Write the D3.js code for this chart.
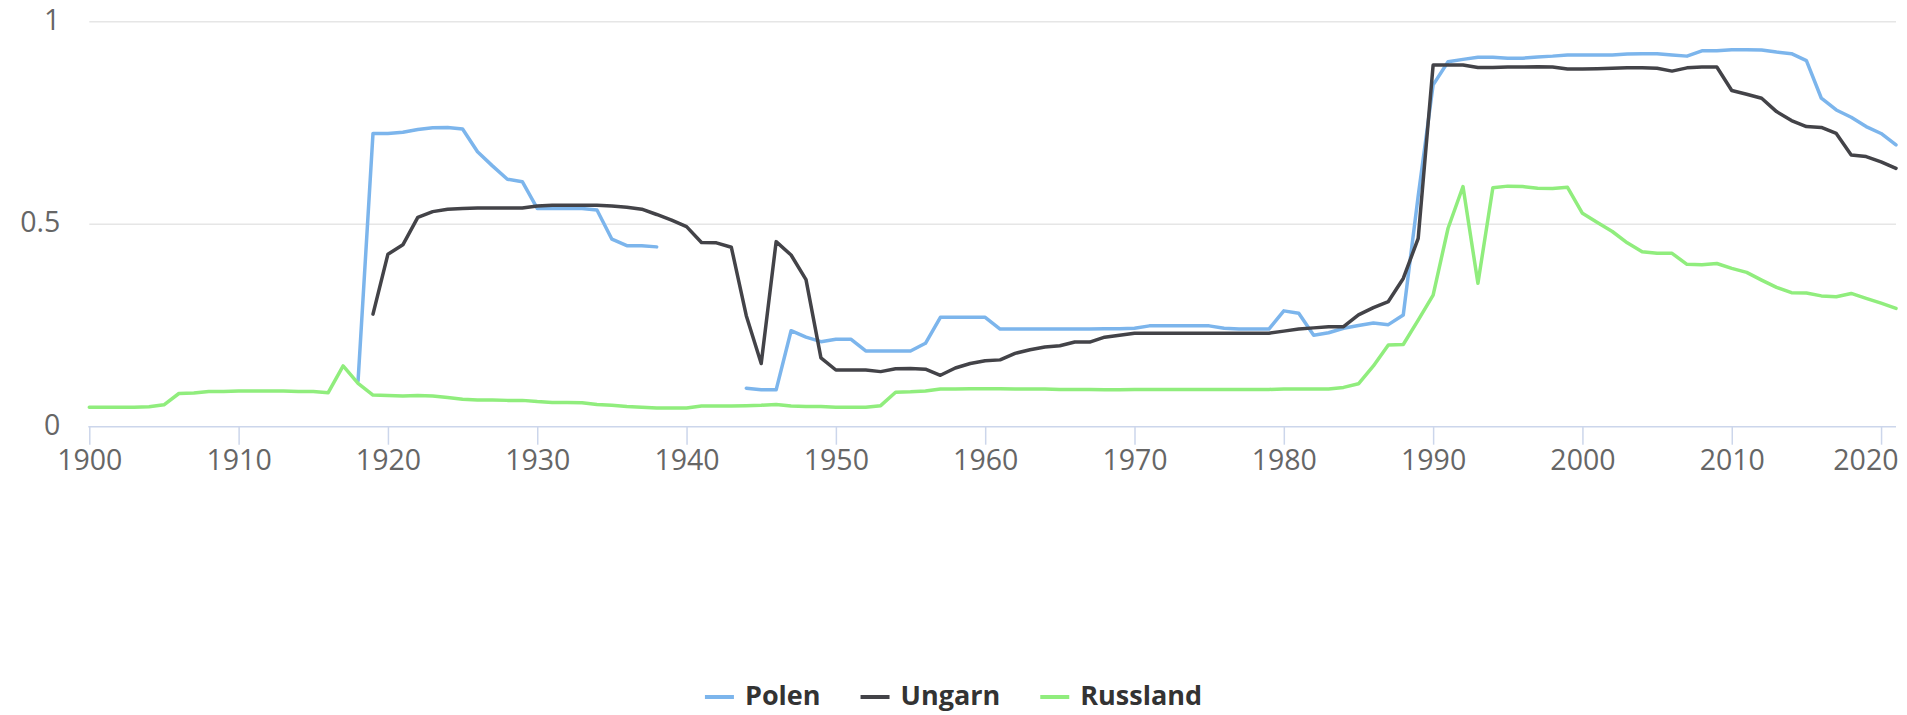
<!DOCTYPE html>
<html>
<head>
<meta charset="utf-8">
<script src="https://cdn.jsdelivr.net/npm/d3@7"></script>
<style>
  body { margin: 0; background: #fff; }
  svg { display: block; font-family: "Open Sans", sans-serif; }
  .grid line { stroke: #e6e6e6; stroke-width: 1.5; }
  .axis-label { fill: #666; font-size: 28.5px; }
  .legend-text { fill: #333; font-size: 27px; font-weight: bold; }
</style>
</head>
<body>
<svg id="chart" width="1907" height="715"></svg>
<script>
// years 1900 .. 2021
var startYear = 1900, endYear = 2021;
var years = d3.range(startYear, endYear + 1);

var seriesNames = ["Polen", "Ungarn", "Russland"];
var seriesColors = ["#7cb5ec", "#434348", "#90ed7d"];

// values per year, null = no data
var polen = [
  null, null, null, null, null, null, null, null, null, null,            // 1900-1909
  null, null, null, null, null, null, null, null, 0.113, 0.724,          // 1910-1919
  0.724, 0.727, 0.734, 0.738, 0.739, 0.735, 0.679, 0.644, 0.611, 0.605,  // 1920-1929
  0.539, 0.539, 0.539, 0.539, 0.535, 0.463, 0.447, 0.447, 0.444, null,  // 1930-1939
  null, null, null, null, 0.095, 0.091, 0.091, 0.237, 0.221, 0.210,      // 1940-1949
  0.216, 0.216, 0.187, 0.187, 0.187, 0.187, 0.206, 0.270, 0.270, 0.270,  // 1950-1959
  0.270, 0.241, 0.241, 0.241, 0.241, 0.241, 0.241, 0.241, 0.242, 0.242,  // 1960-1969
  0.243, 0.249, 0.249, 0.249, 0.249, 0.249, 0.243, 0.241, 0.241, 0.241,  // 1970-1979
  0.286, 0.280, 0.226, 0.232, 0.243, 0.250, 0.256, 0.252, 0.276, 0.570,  // 1980-1989
  0.844, 0.901, 0.907, 0.912, 0.912, 0.910, 0.910, 0.913, 0.915, 0.918,  // 1990-1999
  0.918, 0.918, 0.918, 0.920, 0.921, 0.921, 0.918, 0.915, 0.928, 0.928,  // 2000-2009
  0.931, 0.931, 0.930, 0.925, 0.921, 0.904, 0.811, 0.782, 0.764, 0.741,  // 2010-2019
  0.724, 0.696                                                           // 2020-2021
];

var ungarn = [
  null, null, null, null, null, null, null, null, null, null,            // 1900-1909
  null, null, null, null, null, null, null, null, null, 0.278,           // 1910-1919
  0.426, 0.449, 0.517, 0.531, 0.537, 0.539, 0.540, 0.540, 0.540, 0.540,  // 1920-1929
  0.545, 0.547, 0.547, 0.547, 0.547, 0.545, 0.542, 0.537, 0.524, 0.510,  // 1930-1939
  0.494, 0.455, 0.454, 0.443, 0.274, 0.156, 0.457, 0.424, 0.363, 0.170,  // 1940-1949
  0.140, 0.140, 0.140, 0.136, 0.143, 0.144, 0.142, 0.127, 0.145, 0.156,  // 1950-1959
  0.163, 0.165, 0.181, 0.190, 0.197, 0.200, 0.209, 0.209, 0.221, 0.226,  // 1960-1969
  0.231, 0.231, 0.231, 0.231, 0.231, 0.231, 0.231, 0.231, 0.231, 0.231,  // 1970-1979
  0.236, 0.241, 0.244, 0.247, 0.247, 0.276, 0.294, 0.309, 0.366, 0.465,  // 1980-1989
  0.893, 0.893, 0.893, 0.887, 0.887, 0.888, 0.888, 0.889, 0.888, 0.883,  // 1990-1999
  0.883, 0.884, 0.885, 0.886, 0.886, 0.885, 0.878, 0.886, 0.888, 0.888,  // 2000-2009
  0.830, 0.821, 0.811, 0.778, 0.756, 0.741, 0.739, 0.724, 0.671, 0.667,  // 2010-2019
  0.654, 0.638                                                           // 2020-2021
];

var russland = [
  0.048, 0.048, 0.048, 0.048, 0.049, 0.054, 0.082, 0.083, 0.087, 0.087,  // 1900-1909
  0.088, 0.088, 0.088, 0.088, 0.087, 0.087, 0.084, 0.150, 0.107, 0.078,  // 1910-1919
  0.077, 0.076, 0.077, 0.076, 0.072, 0.068, 0.066, 0.066, 0.065, 0.065,  // 1920-1929
  0.062, 0.060, 0.060, 0.059, 0.055, 0.053, 0.050, 0.048, 0.046, 0.046,  // 1930-1939
  0.046, 0.051, 0.051, 0.051, 0.052, 0.053, 0.055, 0.051, 0.050, 0.050,  // 1940-1949
  0.048, 0.048, 0.048, 0.052, 0.085, 0.086, 0.088, 0.093, 0.093, 0.094,  // 1950-1959
  0.094, 0.094, 0.093, 0.093, 0.093, 0.092, 0.092, 0.092, 0.091, 0.091,  // 1960-1969
  0.092, 0.092, 0.092, 0.092, 0.092, 0.092, 0.092, 0.092, 0.092, 0.092,  // 1970-1979
  0.093, 0.093, 0.093, 0.093, 0.097, 0.106, 0.150, 0.202, 0.203, 0.263,  // 1980-1989
  0.325, 0.490, 0.593, 0.354, 0.590, 0.594, 0.593, 0.589, 0.588, 0.591,  // 1990-1999
  0.527, 0.504, 0.482, 0.454, 0.432, 0.428, 0.428, 0.401, 0.400, 0.403,  // 2000-2009
  0.391, 0.381, 0.362, 0.344, 0.331, 0.330, 0.323, 0.321, 0.329, 0.317,  // 2010-2019
  0.305, 0.292                                                           // 2020-2021
];

var yTicks = [0, 0.5, 1];
var xTicks = d3.range(1900, 2021, 10);

var svg = d3.select("#chart"),
    width = +svg.attr("width"),
    height = +svg.attr("height");

// plot area (pixel box of the reference)
var plot = {left: 89.3, right: 1896, top: 21.7, bottom: 426.7};

var x = d3.scaleLinear().domain([startYear, endYear]).range([plot.left, plot.right]);
var y = d3.scaleLinear().domain([0, 1]).range([plot.bottom, plot.top]);

// horizontal grid lines (not at 0, the axis line sits there)
svg.append("g").attr("class", "grid")
   .selectAll("line")
   .data(yTicks.filter(function(d) { return d !== 0; }))
   .enter().append("line")
   .attr("x1", plot.left).attr("x2", plot.right)
   .attr("y1", function(d) { return y(d); })
   .attr("y2", function(d) { return y(d); });

// y labels
svg.append("g")
   .selectAll("text")
   .data(yTicks)
   .enter().append("text")
   .attr("class", "axis-label")
   .attr("text-anchor", "end")
   .attr("x", plot.left - 29)
   .attr("y", function(d) { return y(d) + 8; })
   .text(function(d) { return d3.format("")(d); });

// x axis through d3.axisBottom, restyled
var xAxis = svg.append("g")
   .attr("transform", "translate(0," + plot.bottom + ")")
   .call(d3.axisBottom(x).tickValues(xTicks).tickFormat(d3.format("d"))
         .tickSize(18).tickPadding(7).tickSizeOuter(0));
xAxis.attr("font-family", null).attr("font-size", null);
xAxis.select(".domain").attr("stroke", "#ccd6eb").attr("stroke-width", 1.5)
     .attr("d", "M" + (plot.left - 1) + ",0H" + plot.right);
xAxis.selectAll(".tick line").attr("stroke", "#ccd6eb").attr("stroke-width", 1.5);
xAxis.selectAll(".tick text")
     .attr("class", "axis-label")
     .attr("dy", null)
     .attr("y", 43)
     .attr("fill", null);

// keep the last label inside the chart, as the reference does
xAxis.selectAll(".tick").each(function(d) {
  var t = d3.select(this).select("text");
  var w = t.node().getComputedTextLength();
  var maxRight = width - 9;
  if (x(d) + w / 2 > maxRight) t.attr("x", maxRight - w / 2 - x(d));
});

// lines
var allSeries = [polen, ungarn, russland];
var line = d3.line()
   .defined(function(d) { return d.value !== null; })
   .x(function(d) { return x(d.year); })
   .y(function(d) { return y(d.value); })
   .curve(d3.curveLinear);

svg.append("g")
   .selectAll("path")
   .data(allSeries)
   .enter().append("path")
   .attr("fill", "none")
   .attr("stroke", function(d, i) { return seriesColors[i]; })
   .attr("stroke-width", 3.5)
   .attr("stroke-linejoin", "round")
   .attr("stroke-linecap", "round")
   .attr("d", function(values) {
     return line(years.map(function(yr, i) { return {year: yr, value: values[i]}; }));
   });

// legend, centred under the chart
var legend = svg.append("g").attr("class", "legend");
var symbolW = 29, symbolGap = 11, itemGap = 40, legendCenter = width / 2, legendY = 705;
var items = legend.selectAll("g")
   .data(seriesNames)
   .enter().append("g");
items.append("line")
   .attr("x1", 0).attr("x2", symbolW)
   .attr("y1", -8).attr("y2", -8)
   .attr("stroke", function(d, i) { return seriesColors[i]; })
   .attr("stroke-width", 4);
items.append("text")
   .attr("class", "legend-text")
   .attr("x", symbolW + symbolGap)
   .attr("y", 0)
   .text(function(d) { return d; });

var offsets = [], cursor = 0;
items.each(function() {
  offsets.push(cursor);
  var w = symbolW + symbolGap + this.querySelector("text").getComputedTextLength();
  cursor += w + itemGap;
});
var total = cursor - itemGap;
items.attr("transform", function(d, i) {
  return "translate(" + (legendCenter - total / 2 + offsets[i]) + "," + legendY + ")";
});
</script>
</body>
</html>
